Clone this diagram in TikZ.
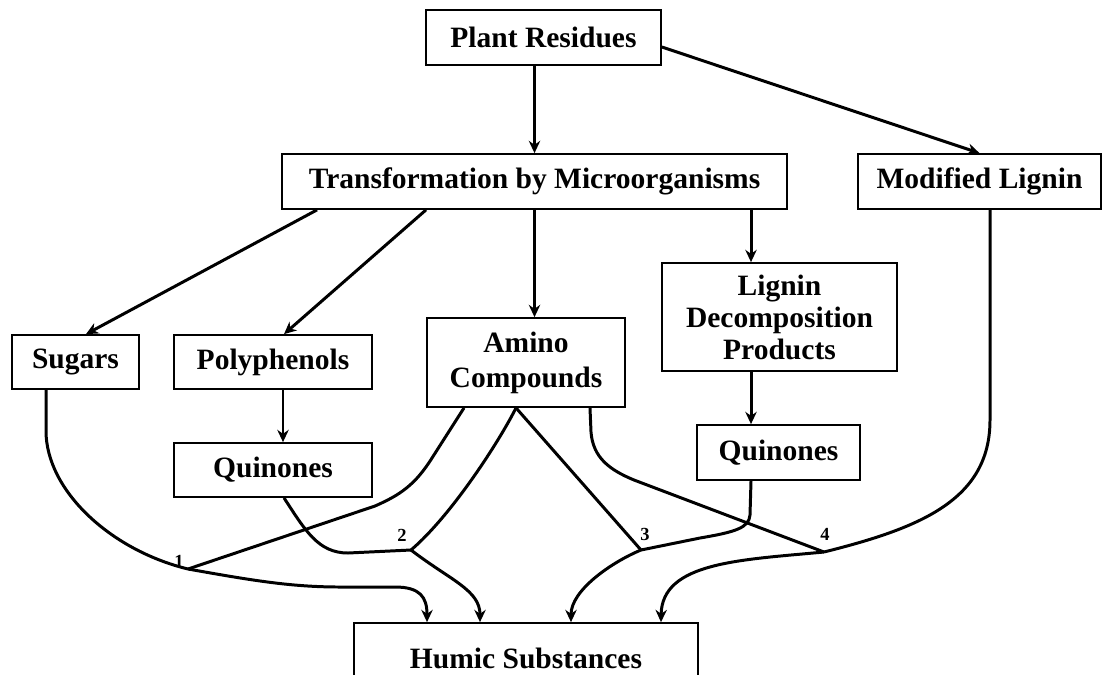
\documentclass[tikz,border=0pt]{standalone}
\usepackage{fontspec}
\setmainfont{Liberation Serif}
\usetikzlibrary{arrows.meta,positioning}

\begin{document}
\begin{tikzpicture}[x=0.02cm, y=-0.02cm, >={Stealth[length=7pt,width=6.5pt]},
	font=\fontsize{16.8}{19}\selectfont\bfseries,
	box/.style={draw, line width=1pt, inner sep=0pt, align=center},
	flow/.style={line width=1.7pt},
	num/.style={font=\fontsize{10.5}{12}\selectfont\bfseries, inner sep=0pt}]
		\useasboundingbox (0,0) rectangle (1105,674);

		% Kaders
		\node[box, minimum width=4.70cm, minimum height=1.10cm] (pr) at (543.5,37.5) {Plant Residues};
		\node[box, minimum width=10.10cm, minimum height=1.10cm] (tm) at (534.5,181.5) {Transformation by Microorganisms};
		\node[box, minimum width=4.86cm, minimum height=1.10cm] (ml) at (979.5,181.5) {Modified Lignin};
		\node[box, minimum width=2.54cm, minimum height=1.08cm] (sug) at (75.5,362) {Sugars};
		\node[box, minimum width=3.96cm, minimum height=1.08cm] (poly) at (273,362) {Polyphenols};
		\node[box, minimum width=3.96cm, minimum height=1.78cm, font=\fontsize{16.8}{20}\selectfont\bfseries] (amino) at (526,362.5) {Amino\\Compounds};
		\node[box, minimum width=4.70cm, minimum height=2.16cm, font=\fontsize{16.8}{18.2}\selectfont\bfseries] (lig) at (779.5,317) {Lignin\\Decomposition\\Products};
		\node[box, minimum width=3.96cm, minimum height=1.08cm] (quinA) at (273,470) {Quinones};
		\node[box, minimum width=3.26cm, minimum height=1.10cm] (quinB) at (778.5,452.5) {Quinones};
		\node[box, minimum width=6.88cm, minimum height=1.40cm] (humic) at (526,658) {Humic Substances};

		% Bovenste pijlen
		\draw[flow, ->] (pr.south -| tm.north) -- (tm.north);
		\draw[flow, ->] ([yshift=-0.19cm]pr.east) -- (ml.north);
		\draw[flow, ->] ([xshift=-4.35cm]tm.south) -- ([xshift=0.21cm]sug.north);
		\draw[flow, ->] ([xshift=-2.17cm]tm.south) -- ([xshift=0.22cm]poly.north);
		\draw[flow, ->] (tm.south) -- (tm.south |- amino.north);
		\draw[flow, ->] ([xshift=-0.57cm]lig.north |- tm.south) -- ([xshift=-0.57cm]lig.north);
		\draw[flow, ->] ([xshift=-0.57cm]lig.south) -- ([xshift=-0.57cm]lig.south |- quinB.north);
		\draw[flow, ->] ([xshift=0.2cm]poly.south) -- ([xshift=0.2cm]poly.south |- quinA.north);

		% Knooppunten
		\coordinate (j1) at (188,569);
		\coordinate (j2) at (411,550);
		\coordinate (j3) at (641,550);
		\coordinate (j4) at (824,552);

		% Route 1
		\draw[flow] ([xshift=-0.59cm]sug.south) -- ++(0,41) .. controls (46,490) and (110,550) .. (j1);
		\draw[flow] ([xshift=-1.24cm]amino.south) -- (432,458) .. controls (415,485) and (400,495) .. (375,506) -- (j1);
		\draw[flow, ->] (j1) .. controls (250,580) and (290,587) .. (340,587) -- (395,587) .. controls (420,587) and (427,597) .. ([xshift=-1.98cm]humic.north);
		% Route 2
		\draw[flow] ([xshift=0.22cm]quinA.south) .. controls (305,530) and (318,553) .. (348,553) -- (j2);
		\draw[flow] ([xshift=-0.2cm]amino.south) .. controls (500,440) and (452,515) .. (j2);
		\draw[flow, ->] (j2) .. controls (450,580) and (480,590) .. ([xshift=-0.92cm]humic.north);
		% Route 3
		\draw[flow] ([xshift=-0.2cm]amino.south) -- (j3);
		\draw[flow] ([xshift=-0.55cm]quinB.south) -- (750,515) .. controls (749,528) and (735,532) .. (700,538) -- (j3);
		\draw[flow, ->] (j3) .. controls (612,562) and (571,590) .. ([xshift=0.9cm]humic.north);
		% Route 4
		\draw[flow] ([xshift=1.28cm]amino.south) -- (591,432) .. controls (593,458) and (610,470) .. (634,480) -- (j4);
		\draw[flow] ([xshift=0.21cm]ml.south) -- (990,420) .. controls (990,500) and (920,528) .. (j4);
		\draw[flow, ->] (j4) .. controls (740,560) and (662,562) .. ([xshift=2.7cm]humic.north);

		% Nummers
		\node[num] (n1) at (179,561) {1};
		\node[num] (n2) at (402,535) {2};
		\node[num] (n3) at (645,534) {3};
		\node[num] (n4) at (825,534) {4};
	\end{tikzpicture}
\end{document}
